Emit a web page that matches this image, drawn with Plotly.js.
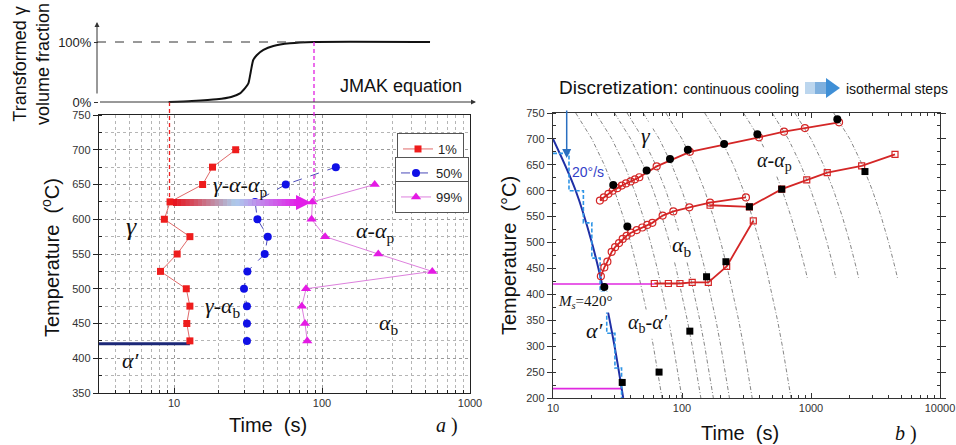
<!DOCTYPE html>
<html><head><meta charset="utf-8">
<script src="https://cdn.plot.ly/plotly-3.0.1.min.js"></script>
<style>body{margin:0;padding:0;background:#fff}#chart{width:956px;height:445px}</style>
</head><body><div id="chart"></div>
<script>
// ---------- DATA ----------
// (a) top: JMAK transformed fraction vs time
const jmakTime = [9.2, 13.2, 19.4, 24.3, 27.9, 30.2, 31.8, 33.0, 34.3, 36.2, 40.2, 46.9, 60.7, 88.3, 537];
const jmakFrac = [0, 0.017, 0.045, 0.083, 0.145, 0.233, 0.31, 0.505, 0.70, 0.78, 0.867, 0.933, 0.978, 1.0, 1.0];
// (a) TTT curves
const temps1 = [700, 675, 650, 625, 600, 575, 550, 525, 500, 475, 450, 425];
const time1 = [26.1, 18.2, 15.6, 9.4, 8.6, 12.8, 10.5, 8.1, 12.1, 12.8, 12.2, 12.8];
const temps50 = [675, 650, 625, 600, 575, 550, 525, 500, 475, 450, 425];
const time50 = [124, 56.9, 35.3, 36.6, 43, 41, 31.3, 29.7, 31.1, 31.1, 31.1];
const temps99 = [650, 625, 600, 575, 550, 525, 500, 475, 450, 425];
const time99 = [227, 86, 85, 105, 240, 556, 78, 73, 76.7, 79.5];
const msLineTime = [3, 12.8];
const msLineTemp = [421, 421];
const legendNames = ['1%', '50%', '99%'];
// (b) cooling curves (dashed)
const coolTemps = [750, 700, 650, 600, 550, 500, 450, 400, 350, 300, 250, 200];
const cool10 = [15, 20, 25, 30, 35, 40, 45, 50, 55, 60, 65, 70];
const cool7 = [21.4, 28.6, 35.7, 42.9, 50, 57.1, 64.3, 71.4, 78.6, 85.7, 92.9, 100];
const cool5 = [30, 40, 50, 60, 70, 80, 90, 100, 110, 120, 130, 140];
const cool4 = [37.5, 50, 62.5, 75, 87.5, 100, 112.5, 125, 137.5, 150, 162.5, 175];
const cool3 = [50, 66.7, 83.3, 100, 116.7, 133.3, 150, 166.7, 183.3, 200, 216.7, 233.3];
const cool2 = [75, 100, 125, 150, 175, 200, 225, 250, 275, 300, 325, 350];
const cool1 = [150, 200, 250, 300, 350, 400, 450, 500, 550, 600, 650, 700];
const coolTempsSlow = [750, 700, 650, 600, 550, 500, 450, 432];
const cool05 = [300, 400, 500, 600, 700, 800, 900, 936];
const cool03 = [500, 667, 833, 1000, 1167, 1333, 1500, 1560];
const cool02 = [750, 1000, 1250, 1500, 1750, 2000, 2250, 2340];
const cool01 = [1500, 2000, 2500, 3000, 3500, 4000, 4500, 4680];
// (b) 20 C/s cooling path and its isothermal discretization
const blueTime = [10, 15, 20, 25, 30, 35];
const blueTemp = [700, 600, 500, 400, 300, 200];
const stepTime = [10, 13.3, 13.3, 17.2, 17.2, 20, 20, 23.2, 23.2, 26.1, 26.1, 30.2, 30.2, 34, 34];
const stepTemp = [672, 672, 600, 600, 538, 538, 470, 470, 405, 405, 325, 325, 258, 258, 200];
const magTime1 = [10, 61];
const magTemp1 = [420, 420];
const magTime2 = [10, 34];
const magTemp2 = [218, 218];
// (b) simulated curves
const circUpTime = [23.1, 24.8, 26.9, 29.0, 31.5, 34.1, 36.8, 40, 43.2, 46.7, 63.6, 115, 395, 618, 897, 1650];
const circUpTemp = [581, 587, 594, 600, 605, 610, 614, 618, 622, 626, 647, 675, 703, 714, 721, 732];
const circMidTime = [23.5, 25, 26.4, 28.5, 30.3, 32.5, 34.7, 37.2, 40.3, 44.6, 49.2, 53.8, 58.9, 70.8, 85.7, 114, 165, 313];
const circMidTemp = [435, 452, 463, 482, 491, 499, 507, 513, 519, 524, 529, 534, 538, 552, 560, 568, 577, 587];
const sqUpTime = [165, 333, 593, 927, 1336, 2470, 4480];
const sqUpTemp = [572, 569, 603, 621, 635, 648, 670];
const sqLowTime = [61, 78.4, 96.4, 120, 160, 222, 357];
const sqLowTemp = [421, 421, 421, 423, 423, 454, 542];
// (b) experimental points
const expCircTime = [29.3, 53.2, 80.7, 111, 212, 384, 1600, 37.7, 25];
const expCircTemp = [611, 639, 661, 679, 690, 709, 738, 531, 414];
const expSqTime = [155, 219, 333, 593, 2620, 115, 66.4, 34.4];
const expSqTemp = [434, 463, 569, 603, 637, 329, 250, 230];

// ---------- helpers ----------
const W = 956, H = 445;
const px = x => x / W;
const py = y => 1 - y / H;
const tickFont = {family: 'Liberation Sans, Arial, sans-serif', size: 11, color: '#333'};
const sans = 'Liberation Sans, Arial, sans-serif';
const serif = 'Liberation Serif, Times New Roman, serif';

function logMinor(from, to) {
  const v = [];
  for (let d = from; d < to; d *= 10) for (let k = 2; k <= 9; k++) v.push(d * k);
  return v;
}

const traces = [];
// top JMAK curve
traces.push({x: jmakTime, y: jmakFrac, xaxis: 'x', yaxis: 'y', mode: 'lines',
  line: {color: '#111', width: 2, shape: 'spline', smoothing: 0.6}, showlegend: false, hoverinfo: 'skip'});
// left main
traces.push({x: msLineTime, y: msLineTemp, xaxis: 'x2', yaxis: 'y2', mode: 'lines',
  line: {color: '#1c2878', width: 3}, showlegend: false});
traces.push({x: time1, y: temps1, xaxis: 'x2', yaxis: 'y2', mode: 'lines+markers', name: legendNames[0],
  line: {color: '#e06a6a', width: 1}, marker: {symbol: 'square', size: 7, color: '#ee1c1c'}, legend: 'legend'});
traces.push({x: time50, y: temps50, xaxis: 'x2', yaxis: 'y2', mode: 'lines+markers', name: legendNames[1],
  line: {color: '#4a4ab8', width: 1, dash: 'dash'}, marker: {symbol: 'circle', size: 8, color: '#1010e6'}, legend: 'legend2'});
traces.push({x: time99, y: temps99, xaxis: 'x2', yaxis: 'y2', mode: 'lines+markers', name: legendNames[2],
  line: {color: '#dd80dd', width: 1}, marker: {symbol: 'triangle-up', size: 9, color: '#e41ae4'}, legend: 'legend3'});

// right panel
const coolSets = [[cool10, coolTemps], [cool7, coolTemps], [cool5, coolTemps], [cool4, coolTemps], [cool3, coolTemps],
  [cool2, coolTemps], [cool1, coolTemps], [cool05, coolTempsSlow], [cool03, coolTempsSlow], [cool02, coolTempsSlow], [cool01, coolTempsSlow]];
coolSets.forEach(([t, T]) => traces.push({x: t, y: T, xaxis: 'x3', yaxis: 'y3', mode: 'lines',
  line: {color: '#666', width: 0.8, dash: '4px,2px,1px,2px'}, showlegend: false, hoverinfo: 'skip'}));
traces.push({x: magTime1, y: magTemp1, xaxis: 'x3', yaxis: 'y3', mode: 'lines', line: {color: '#e028e0', width: 1.6}, showlegend: false});
traces.push({x: magTime2, y: magTemp2, xaxis: 'x3', yaxis: 'y3', mode: 'lines', line: {color: '#e028e0', width: 1.6}, showlegend: false});
traces.push({x: blueTime, y: blueTemp, xaxis: 'x3', yaxis: 'y3', mode: 'lines', line: {color: '#1f2fa6', width: 2, shape: 'spline'}, showlegend: false});
traces.push({x: stepTime, y: stepTemp, xaxis: 'x3', yaxis: 'y3', mode: 'lines', line: {color: '#2f95e6', width: 1.6, dash: '4px,2px'}, showlegend: false});
traces.push({x: circUpTime, y: circUpTemp, xaxis: 'x3', yaxis: 'y3', mode: 'lines+markers', line: {color: '#d42626', width: 1.8},
  marker: {symbol: 'circle-open', size: 7, color: '#d42626', line: {width: 1.2}}, showlegend: false});
traces.push({x: circMidTime, y: circMidTemp, xaxis: 'x3', yaxis: 'y3', mode: 'lines+markers', line: {color: '#d42626', width: 1.8},
  marker: {symbol: 'circle-open', size: 7, color: '#d42626', line: {width: 1.2}}, showlegend: false});
traces.push({x: sqUpTime, y: sqUpTemp, xaxis: 'x3', yaxis: 'y3', mode: 'lines+markers', line: {color: '#d42626', width: 1.8},
  marker: {symbol: 'square-open', size: 6, color: '#d42626', line: {width: 1.2}}, showlegend: false});
traces.push({x: sqLowTime, y: sqLowTemp, xaxis: 'x3', yaxis: 'y3', mode: 'lines+markers', line: {color: '#d42626', width: 1.8},
  marker: {symbol: 'square-open', size: 6, color: '#d42626', line: {width: 1.2}}, showlegend: false});
traces.push({x: expCircTime, y: expCircTemp, xaxis: 'x3', yaxis: 'y3', mode: 'markers',
  marker: {symbol: 'circle', size: 8, color: '#000'}, showlegend: false});
traces.push({x: expSqTime, y: expSqTemp, xaxis: 'x3', yaxis: 'y3', mode: 'markers',
  marker: {symbol: 'square', size: 7, color: '#000'}, showlegend: false});

// ---------- shapes ----------
const shapes = [];
shapes.push({type: 'line', xref: 'paper', yref: 'paper', x0: px(97), x1: px(314), y0: py(42), y1: py(42), line: {color: '#333', width: 1, dash: 'dash'}});
shapes.push({type: 'line', xref: 'paper', yref: 'paper', x0: px(169.5), x1: px(169.5), y0: py(102), y1: py(202), line: {color: '#ee2020', width: 1.3, dash: '4px,3px'}});
shapes.push({type: 'line', xref: 'paper', yref: 'paper', x0: px(314), x1: px(314), y0: py(42), y1: py(202), line: {color: '#e020e0', width: 1.3, dash: '4px,3px'}});
// gradient arrow (γ-α-αp)
const nSeg = 30, ax0 = 173, ax1 = 298, ay = 202.5;
const cA = [232, 16, 26], cB = [172, 204, 236], cC = [226, 30, 232];
for (let i = 0; i < nSeg; i++) {
  const t = (i + 0.5) / nSeg;
  let c;
  if (t < 0.5) { const u = t / 0.5; c = cA.map((v, k) => Math.round(v + (cB[k] - v) * u)); }
  else { const u = (t - 0.5) / 0.5; c = cB.map((v, k) => Math.round(v + (cC[k] - v) * u)); }
  const xa = ax0 + (ax1 - ax0) * i / nSeg, xb = ax0 + (ax1 - ax0) * (i + 1) / nSeg + 0.6;
  shapes.push({type: 'line', xref: 'paper', yref: 'paper', x0: px(xa), x1: px(xb), y0: py(ay), y1: py(ay),
    line: {color: `rgb(${c[0]},${c[1]},${c[2]})`, width: 7}});
}
shapes.push({type: 'path', xref: 'paper', yref: 'paper',
  path: `M ${px(296)} ${py(195)} L ${px(311)} ${py(ay)} L ${px(296)} ${py(210)} Z`, fillcolor: '#e21ee8', line: {width: 0}});
// "continuous cooling -> isothermal steps" block arrow
shapes.push({type: 'rect', xref: 'paper', yref: 'paper', x0: px(805), x1: px(815), y0: py(94), y1: py(82), fillcolor: '#bcd6ee', line: {width: 0}});
shapes.push({type: 'rect', xref: 'paper', yref: 'paper', x0: px(815), x1: px(826), y0: py(94), y1: py(82), fillcolor: '#7fb0de', line: {width: 0}});
shapes.push({type: 'path', xref: 'paper', yref: 'paper',
  path: `M ${px(826)} ${py(78)} L ${px(840)} ${py(88)} L ${px(826)} ${py(98)} Z`, fillcolor: '#3f8fd6', line: {width: 0}});

// ---------- annotations ----------
const ann = [];
function txt(text, x, y, size, opts = {}) {
  ann.push(Object.assign({text, x: px(x), y: py(y), xref: 'paper', yref: 'paper', showarrow: false,
    xanchor: 'center', yanchor: 'middle',
    font: {family: opts.family || sans, size, color: opts.color || '#111'}}, opts.extra || {}));
}
ann.push({x: px(476), y: py(102), ax: -379, ay: 0, xref: 'paper', yref: 'paper', showarrow: true, arrowhead: 2, arrowsize: 1, arrowwidth: 1, arrowcolor: '#333', text: ' '});
ann.push({x: px(97), y: py(22), ax: 0, ay: 80, xref: 'paper', yref: 'paper', showarrow: true, arrowhead: 2, arrowsize: 1, arrowwidth: 1, arrowcolor: '#333', text: ' '});
txt('JMAK equation', 401, 86, 18);
txt('Transformed γ<br>volume fraction', 31, 64, 18, {extra: {textangle: -90}});
// left main texts
txt('Temperature  (<sup>o</sup>C)', 50, 258, 20, {extra: {textangle: -90}});
txt('Time  (s)', 268, 425, 20);
txt('<i>a</i> )', 447, 425, 20, {family: serif});
txt('<i>γ</i>', 131, 226, 26, {family: serif});
txt('<i>γ</i>-<i>α</i>-<i>α</i><sub>p</sub>', 240, 186, 22, {family: serif});
txt('<i>α</i>-<i>α</i><sub>p</sub>', 375, 232, 22, {family: serif});
txt('<i>γ</i>-<i>α</i><sub>b</sub>', 223, 307, 22, {family: serif});
txt('<i>α</i><sub>b</sub>', 389, 324, 22, {family: serif});
txt('<i>α′</i>', 131, 360, 22, {family: serif});
// right panel texts
txt('Discretization:', 618, 87, 19);
txt('continuous cooling', 741, 89, 14);
txt('isothermal steps', 897, 89, 14);
ann.push({x: px(566.7), y: py(158), ax: 0, ay: -56, xref: 'paper', yref: 'paper', showarrow: true, arrowhead: 2, arrowsize: 1.2, arrowwidth: 1.5, arrowcolor: '#2a6fc0', text: ' '});
txt('Temperature  (°C)', 509, 256, 20, {extra: {textangle: -90}});
txt('Time  (s)', 740, 433, 20);
txt('<i>b</i> )', 906, 433, 20, {family: serif});
txt('20°/s', 588, 172, 14, {color: '#3340c8'});
txt('<i>γ</i>', 646, 135, 22, {family: serif, extra: {bgcolor: '#fff'}});
txt('<i>α</i>-<i>α</i><sub>p</sub>', 774, 162, 20, {family: serif, extra: {bgcolor: '#fff'}});
txt('<i>α</i><sub>b</sub>', 682, 246, 22, {family: serif, extra: {bgcolor: '#fff'}});
txt('<i>M<sub>s</sub></i>=420°', 585, 302, 15, {family: serif, extra: {bgcolor: '#fff'}});
txt('<i>α′</i>', 595, 330, 22, {family: serif});
txt('<i>α</i><sub>b</sub>-<i>α′</i>', 648, 323, 20, {family: serif, extra: {bgcolor: '#fff'}});

const legendBase = {xanchor: 'left', yanchor: 'top', bgcolor: '#fff', bordercolor: '#555', borderwidth: 1,
  font: {family: sans, size: 13, color: '#222'}, itemwidth: 30, tracegroupgap: 0};

const layout = {
  width: W, height: H, margin: {l: 0, r: 0, t: 0, b: 0}, paper_bgcolor: '#fff', plot_bgcolor: 'rgba(0,0,0,0)',
  font: {family: sans},
  showlegend: true,
  legend: Object.assign({}, legendBase, {x: px(397), y: py(133)}),
  legend2: Object.assign({}, legendBase, {x: px(395), y: py(157)}),
  legend3: Object.assign({}, legendBase, {x: px(395), y: py(181)}),
  xaxis: {type: 'log', range: [0.493, 3], domain: [px(99), px(470)], anchor: 'y', visible: false},
  yaxis: {range: [-0.1333, 1.3333], domain: [py(110), py(22)], anchor: 'x', tickvals: [0, 1], ticktext: ['0%', '100%'],
    showgrid: false, zeroline: false, showline: false, ticks: 'outside', ticklen: 4, tickcolor: '#333',
    tickfont: {family: sans, size: 13, color: '#222'}},
  xaxis2: {type: 'log', range: [0.493, 3], domain: [px(99), px(470)], anchor: 'y2',
    tickvals: [10, 100, 1000], ticktext: ['10', '100', '1000'], ticks: 'inside', ticklen: 5, tickcolor: '#222',
    showgrid: true, gridcolor: '#9a9a9a', griddash: 'dot', gridwidth: 1,
    minor: {tickmode: 'array', tickvals: logMinor(1, 1000), ticks: 'inside', ticklen: 3, tickcolor: '#222', showgrid: true, gridcolor: '#b5b5b5', griddash: 'dot'},
    showline: true, linecolor: '#222', linewidth: 1.2, mirror: true, zeroline: false, tickfont: tickFont},
  yaxis2: {range: [350, 750], domain: [py(393), py(115)], anchor: 'x2', dtick: 50, tick0: 350,
    ticks: 'outside', ticklen: 5, tickcolor: '#222',
    showgrid: true, gridcolor: '#9a9a9a', griddash: 'dot',
    minor: {dtick: 25, ticks: 'inside', ticklen: 3, tickcolor: '#222', showgrid: true, gridcolor: '#b5b5b5', griddash: 'dot'},
    showline: true, linecolor: '#222', linewidth: 1.2, mirror: true, zeroline: false, tickfont: tickFont},
  xaxis3: {type: 'log', range: [1, 4], domain: [px(553), px(940)], anchor: 'y3',
    tickvals: [10, 100, 1000, 10000], ticktext: ['10', '100', '1000', '10000'], ticks: 'inside', ticklen: 5, tickcolor: '#333',
    minor: {tickmode: 'array', tickvals: logMinor(10, 10000), ticks: 'inside', ticklen: 3, tickcolor: '#333'},
    showgrid: false, showline: true, linecolor: '#333', linewidth: 1.2, mirror: 'ticks', zeroline: false, tickfont: tickFont},
  yaxis3: {range: [200, 750], domain: [py(398), py(113)], anchor: 'x3', dtick: 50, tick0: 200,
    ticks: 'outside', ticklen: 5, tickcolor: '#333',
    minor: {dtick: 25, ticks: 'inside', ticklen: 3, tickcolor: '#333'},
    showgrid: false, showline: true, linecolor: '#333', linewidth: 1.2, mirror: 'ticks', zeroline: false, tickfont: tickFont},
  shapes, annotations: ann
};
Plotly.newPlot('chart', traces, layout, {staticPlot: true, displayModeBar: false});
</script></body></html>
